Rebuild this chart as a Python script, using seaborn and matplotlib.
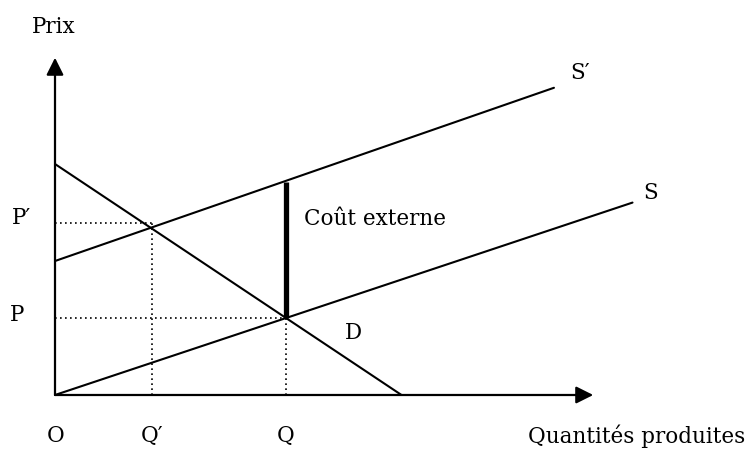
import numpy as np
import pandas as pd
import matplotlib
matplotlib.use('Agg')
import matplotlib.pyplot as plt
import seaborn as sns

sns.set_style('white')
plt.rcParams['font.family'] = ['DejaVu Serif', 'Liberation Serif']
plt.rcParams['text.color'] = 'black'

# --- Data (economic units, origin at O) ---
demand_x = [0, 15.0]
demand_y = [10.0, 0]
supply_x = [0, 25.0]
supply_y = [0, 8.33]
supply_ext_x = [0, 21.6]
supply_ext_y = [5.8, 13.3]

q_eq, p_eq = 10.0, 3.33          # Q, P
q_opt, p_opt = 4.2, 7.45         # Q', P'
ext_cost_top = 9.2               # S' at Q

x_axis_end = 23.3
y_axis_end = 14.6

lines = pd.concat([
    pd.DataFrame({'q': demand_x, 'p': demand_y, 'courbe': 'D'}),
    pd.DataFrame({'q': supply_x, 'p': supply_y, 'courbe': 'S'}),
    pd.DataFrame({'q': supply_ext_x, 'p': supply_ext_y, 'courbe': "S'"}),
])

fig = plt.figure(figsize=(7.48, 4.49), dpi=100)
ax = fig.add_axes([0, 0, 1, 1])
ax.set_xlim(-2.381, 30.0)
ax.set_ylim(-2.338, 17.10)
ax.axis('off')

# demand and supply curves
sns.lineplot(data=lines, x='q', y='p', hue='courbe', units='courbe', estimator=None,
             palette=['black'] * 3, lw=1.5, legend=False, sort=False, ax=ax)

# axes with arrow heads
arrow = dict(arrowstyle='-|>', mutation_scale=26, lw=1.6, color='black', shrinkA=0, shrinkB=0)
ax.annotate('', xy=(x_axis_end, 0), xytext=(0, 0), arrowprops=arrow)
ax.annotate('', xy=(0, y_axis_end), xytext=(0, 0), arrowprops=arrow)

# dotted guides
dot = dict(color='black', lw=1.2, ls=(0, (1, 2)))
ax.plot([0, q_opt], [p_opt, p_opt], **dot)
ax.plot([q_opt, q_opt], [0, p_opt], **dot)
ax.plot([0, q_eq], [p_eq, p_eq], **dot)
ax.plot([q_eq, q_eq], [0, p_eq], **dot)

# external cost bar
ax.plot([q_eq, q_eq], [p_eq, ext_cost_top], color='black', lw=3.8, solid_capstyle='butt')

fs = 15.5
ax.text(-0.04, 15.93, 'Prix', fontsize=fs, ha='center', va='center')
ax.text(-1.85, 7.65, 'P\u2032', fontsize=fs, ha='left', va='center')
ax.text(-1.95, 3.45, 'P', fontsize=fs, ha='left', va='center')
ax.text(0.04, -1.78, 'O', fontsize=fs, ha='center', va='center')
ax.text(q_opt, -1.78, 'Q\u2032', fontsize=fs, ha='center', va='center')
ax.text(q_eq, -1.78, 'Q', fontsize=fs, ha='center', va='center')
ax.text(29.9, -1.78, 'Quantités produites', fontsize=fs, ha='right', va='center')
ax.text(12.9, 2.68, 'D', fontsize=fs, ha='center', va='center')
ax.text(22.75, 13.95, 'S\u2032', fontsize=fs, ha='center', va='center')
ax.text(25.8, 8.75, 'S', fontsize=fs, ha='center', va='center')
ax.text(10.8, 7.6, 'Coût externe', fontsize=fs, ha='left', va='center')

fig.savefig('out.png', dpi=100)
